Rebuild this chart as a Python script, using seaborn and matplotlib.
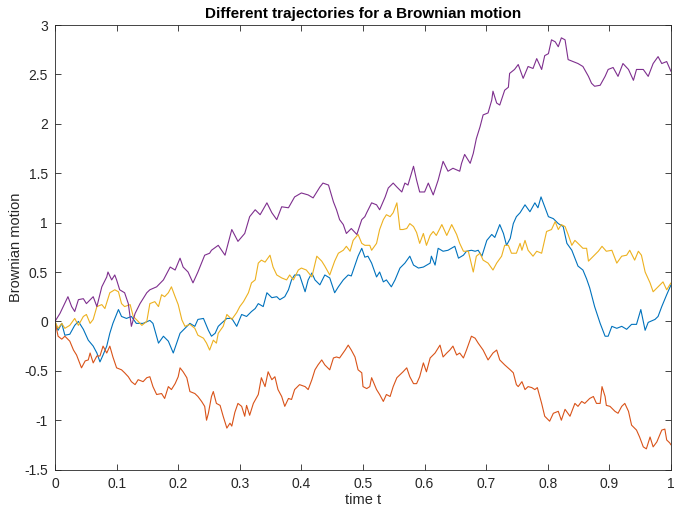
import numpy as np
import pandas as pd
import matplotlib
matplotlib.use("Agg")
import matplotlib.pyplot as plt
import seaborn as sns

# ---- data ----
t_blue = [0, .005, .011, .016, .024, .032, .038, .046, .054, .062, .068, .073, .078, .084, .089, .094, .103, .108, .116, .124,
          .132, .143, .154, .159, .168, .176, .184, .192, .197, .203, .211, .219, .227, .232, .241, .249, .254, .260, .265, .270,
          .279, .287, .295, .303, .311, .319, .325, .330, .338, .344, .352, .360, .365, .373, .379, .384, .389, .397, .406, .411,
          .417, .422, .430, .438, .446, .454, .460, .468, .476, .481, .487, .492, .498, .503, .508, .514, .522, .527, .533, .538,
          .546, .552, .560, .568, .576, .582, .590, .598, .609, .611, .617, .622, .630, .638, .649, .655, .663, .668, .676, .682,
          .687, .693, .701, .709, .714, .722, .728, .733, .739, .744, .749, .755, .763, .771, .779, .784, .789, .795, .801, .809,
          .817, .825, .831, .839, .844, .849, .857, .863, .868, .876, .885, .893, .898, .904, .912, .920, .928, .936, .944, .951,
          .958, .963, .974, .979, .985, .993, 1.0]
v_blue = [0, -0.09, -0.02, -0.14, -0.13, -0.04, 0.0, -0.08, -0.19, -0.25, -0.32, -0.41, -0.34, -0.25, -0.12, -0.02, 0.12, 0.05, 0.03, 0.05,
          -0.02, -0.02, 0.01, -0.02, -0.22, -0.15, -0.20, -0.32, -0.23, -0.12, -0.07, -0.02, -0.05, 0.02, 0.03, -0.09, -0.15, -0.12, -0.05, -0.02,
          0.03, 0.03, -0.05, 0.07, 0.05, 0.10, 0.13, 0.18, 0.15, 0.29, 0.24, 0.25, 0.22, 0.25, 0.32, 0.42, 0.47, 0.47, 0.30, 0.42,
          0.49, 0.42, 0.37, 0.47, 0.44, 0.29, 0.35, 0.42, 0.47, 0.46, 0.57, 0.66, 0.74, 0.65, 0.66, 0.59, 0.45, 0.50, 0.40, 0.42,
          0.35, 0.42, 0.54, 0.59, 0.66, 0.57, 0.54, 0.55, 0.59, 0.66, 0.57, 0.74, 0.71, 0.72, 0.76, 0.64, 0.67, 0.71, 0.72, 0.71,
          0.72, 0.66, 0.82, 0.88, 0.85, 0.98, 0.89, 0.77, 0.84, 0.99, 1.06, 1.10, 1.18, 1.11, 1.20, 1.15, 1.26, 1.16, 1.06, 1.04,
          0.99, 0.96, 0.79, 0.72, 0.64, 0.56, 0.52, 0.43, 0.34, 0.15, -0.02, -0.15, -0.15, -0.05, -0.07, -0.05, -0.08, -0.03, -0.03, 0.12,
          -0.09, -0.01, 0.02, 0.05, 0.15, 0.27, 0.37]

t_red = [0, .005, .011, .016, .024, .030, .035, .040, .043, .049, .054, .057, .062, .068, .073, .078, .084, .089, .094, .100,
         .108, .113, .119, .124, .130, .135, .143, .149, .154, .159, .165, .173, .178, .184, .189, .195, .200, .203, .208, .214,
         .219, .227, .232, .238, .243, .246, .249, .254, .257, .262, .268, .273, .279, .284, .287, .292, .297, .303, .308, .311,
         .316, .322, .330, .335, .341, .346, .352, .357, .362, .368, .373, .379, .384, .389, .397, .406, .411, .417, .422, .427,
         .433, .438, .446, .452, .457, .462, .471, .476, .481, .487, .492, .498, .500, .506, .511, .514, .522, .527, .533, .538,
         .544, .549, .555, .560, .565, .571, .576, .582, .587, .592, .598, .603, .609, .617, .625, .630, .636, .641, .646, .652,
         .657, .663, .668, .676, .682, .687, .695, .703, .711, .717, .722, .730, .739, .744, .749, .752, .758, .763, .768, .774,
         .779, .783, .790, .795, .803, .809, .817, .822, .828, .836, .844, .849, .855, .860, .868, .874, .879, .885, .888, .893,
         .895, .901, .909, .914, .920, .925, .931, .936, .944, .949, .955, .960, .966, .971, .977, .985, .990, .993, .998, 1.0]
v_red = [0, -0.15, -0.18, -0.15, -0.20, -0.29, -0.34, -0.42, -0.47, -0.40, -0.39, -0.32, -0.42, -0.35, -0.35, -0.25, -0.32, -0.25, -0.36, -0.47,
         -0.49, -0.52, -0.56, -0.61, -0.64, -0.59, -0.61, -0.57, -0.56, -0.66, -0.74, -0.73, -0.78, -0.66, -0.69, -0.63, -0.56, -0.47, -0.51, -0.57,
         -0.71, -0.73, -0.76, -0.81, -0.86, -1.00, -0.93, -0.76, -0.71, -0.83, -0.85, -0.96, -1.08, -1.03, -1.06, -0.92, -0.83, -0.86, -0.96, -0.85,
         -0.95, -0.83, -0.74, -0.57, -0.66, -0.51, -0.59, -0.56, -0.69, -0.76, -0.86, -0.78, -0.79, -0.69, -0.64, -0.66, -0.69, -0.59, -0.49, -0.44,
         -0.39, -0.44, -0.49, -0.37, -0.36, -0.37, -0.29, -0.24, -0.29, -0.36, -0.49, -0.52, -0.66, -0.68, -0.66, -0.57, -0.69, -0.74, -0.81, -0.74,
         -0.76, -0.66, -0.57, -0.54, -0.51, -0.47, -0.56, -0.63, -0.63, -0.56, -0.42, -0.51, -0.37, -0.32, -0.24, -0.36, -0.32, -0.29, -0.25, -0.34,
         -0.32, -0.37, -0.29, -0.15, -0.17, -0.22, -0.29, -0.39, -0.32, -0.29, -0.39, -0.44, -0.49, -0.52, -0.64, -0.66, -0.61, -0.69, -0.66, -0.67,
         -0.69, -0.67, -0.83, -0.96, -1.01, -0.93, -0.91, -1.00, -0.89, -0.96, -0.83, -0.86, -0.81, -0.83, -0.78, -0.76, -0.83, -0.83, -0.66, -0.76,
         -0.85, -0.86, -0.91, -0.93, -0.86, -0.83, -0.91, -1.05, -1.10, -1.17, -1.27, -1.29, -1.17, -1.27, -1.22, -1.10, -1.09, -1.20, -1.23, -1.25]

t_yellow = [0, .005, .011, .016, .024, .032, .038, .046, .051, .057, .062, .068, .076, .081, .089, .097, .103, .108, .113, .122,
            .127, .135, .141, .149, .154, .162, .168, .173, .178, .184, .189, .195, .200, .206, .211, .219, .227, .232, .241, .246,
            .251, .257, .262, .265, .273, .279, .287, .295, .300, .306, .314, .319, .325, .330, .335, .341, .349, .354, .360, .368,
            .376, .381, .387, .395, .400, .408, .417, .425, .433, .438, .446, .454, .460, .468, .473, .479, .484, .492, .498, .503,
            .511, .514, .522, .527, .533, .538, .544, .549, .555, .560, .565, .571, .576, .582, .587, .592, .598, .603, .609, .614,
            .619, .628, .636, .644, .652, .657, .663, .671, .679, .684, .690, .695, .703, .711, .717, .725, .730, .736, .741, .749,
            .755, .758, .763, .768, .776, .782, .790, .798, .806, .812, .817, .822, .828, .833, .839, .844, .849, .857, .863, .866,
            .874, .882, .888, .895, .904, .912, .920, .928, .933, .941, .947, .952, .958, .966, .971, .979, .987, .993, 1.0]
v_yellow = [0, -0.07, -0.02, -0.07, -0.04, 0.03, -0.04, 0.05, 0.07, -0.02, 0.02, 0.15, 0.17, 0.13, 0.29, 0.32, 0.30, 0.18, 0.15, 0.17,
            0.05, 0.0, -0.04, 0.0, 0.18, 0.20, 0.15, 0.27, 0.25, 0.29, 0.35, 0.25, 0.17, 0.015, -0.05, -0.03, -0.07, -0.14, -0.17, -0.22,
            -0.29, -0.19, -0.22, -0.12, -0.05, 0.07, 0.02, 0.09, 0.15, 0.20, 0.29, 0.39, 0.42, 0.59, 0.62, 0.60, 0.67, 0.55, 0.47, 0.44,
            0.42, 0.47, 0.42, 0.52, 0.54, 0.52, 0.45, 0.66, 0.61, 0.56, 0.47, 0.61, 0.69, 0.72, 0.76, 0.71, 0.82, 0.88, 0.79, 0.77,
            0.77, 0.72, 0.79, 0.93, 1.03, 1.08, 1.06, 1.10, 1.20, 0.93, 0.93, 0.94, 0.99, 0.96, 0.90, 0.79, 0.89, 0.77, 0.87, 0.91,
            0.87, 0.98, 0.87, 0.98, 0.88, 0.79, 0.71, 0.71, 0.50, 0.66, 0.69, 0.62, 0.59, 0.52, 0.59, 0.66, 0.77, 0.77, 0.69, 0.69,
            0.79, 0.72, 0.82, 0.72, 0.66, 0.71, 0.69, 0.91, 0.93, 1.01, 0.93, 0.98, 0.96, 0.88, 0.77, 0.82, 0.79, 0.74, 0.74, 0.61,
            0.66, 0.71, 0.76, 0.71, 0.72, 0.59, 0.66, 0.67, 0.72, 0.62, 0.71, 0.67, 0.50, 0.39, 0.30, 0.35, 0.40, 0.32, 0.39]

t_purple = [0, .008, .021, .027, .032, .038, .046, .051, .062, .068, .076, .084, .086, .092, .097, .100, .105, .113, .119, .124,
            .130, .138, .149, .154, .165, .176, .187, .195, .203, .208, .216, .224, .232, .243, .251, .254, .265, .276, .287, .297,
            .308, .316, .325, .333, .344, .352, .360, .368, .379, .389, .400, .411, .419, .430, .435, .444, .452, .457, .462, .468,
            .473, .481, .490, .498, .503, .506, .514, .522, .527, .536, .541, .549, .555, .563, .568, .573, .582, .587, .592, .600,
            .606, .614, .622, .630, .638, .646, .657, .660, .665, .674, .679, .684, .690, .695, .703, .709, .711, .717, .722, .730,
            .736, .738, .746, .752, .760, .768, .776, .782, .790, .795, .801, .806, .812, .817, .822, .828, .833, .841, .849, .857,
            .866, .871, .876, .885, .893, .898, .906, .914, .922, .931, .939, .944, .955, .963, .971, .979, .985, .993, 1.0]
v_purple = [0, 0.08, 0.25, 0.15, 0.10, 0.22, 0.23, 0.18, 0.25, 0.15, 0.35, 0.45, 0.50, 0.42, 0.47, 0.42, 0.32, 0.29, 0.18, -0.05,
            0.08, 0.18, 0.29, 0.32, 0.35, 0.42, 0.55, 0.52, 0.64, 0.55, 0.50, 0.39, 0.50, 0.67, 0.69, 0.72, 0.77, 0.67, 0.93, 0.81,
            0.89, 1.06, 1.13, 1.08, 1.20, 1.10, 1.03, 1.16, 1.15, 1.26, 1.30, 1.28, 1.25, 1.36, 1.40, 1.38, 1.21, 1.13, 1.03, 0.98,
            0.89, 0.94, 0.88, 1.03, 1.06, 1.10, 1.20, 1.18, 1.13, 1.26, 1.35, 1.40, 1.36, 1.31, 1.40, 1.38, 1.57, 1.43, 1.31, 1.31,
            1.40, 1.28, 1.43, 1.62, 1.52, 1.55, 1.52, 1.60, 1.69, 1.60, 1.70, 1.85, 1.97, 2.09, 2.11, 2.24, 2.33, 2.21, 2.19, 2.34,
            2.37, 2.51, 2.55, 2.60, 2.46, 2.58, 2.56, 2.66, 2.55, 2.69, 2.71, 2.85, 2.83, 2.78, 2.87, 2.85, 2.65, 2.63, 2.61, 2.58,
            2.48, 2.41, 2.38, 2.39, 2.48, 2.55, 2.57, 2.48, 2.61, 2.55, 2.44, 2.55, 2.55, 2.48, 2.61, 2.68, 2.61, 2.63, 2.53]

x_ticks = [0, 0.1, 0.2, 0.3, 0.4, 0.5, 0.6, 0.7, 0.8, 0.9, 1]
x_ticklabels = ["0", "0.1", "0.2", "0.3", "0.4", "0.5", "0.6", "0.7", "0.8", "0.9", "1"]
y_ticks = [-1.5, -1, -0.5, 0, 0.5, 1, 1.5, 2, 2.5, 3]
y_ticklabels = ["-1.5", "-1", "-0.5", "0", "0.5", "1", "1.5", "2", "2.5", "3"]

series = [("blue", t_blue, v_blue, "#0072BD"),
          ("red", t_red, v_red, "#D95319"),
          ("yellow", t_yellow, v_yellow, "#EDB120"),
          ("purple", t_purple, v_purple, "#7E2F8E")]

sns.set_theme(style="white")
plt.rcParams['font.family'] = ['Liberation Sans', 'DejaVu Sans']

fig = plt.figure(figsize=(6.76, 5.09), dpi=100)
ax = fig.add_axes([55 / 676, 1 - 469.6 / 509, 616 / 676, (469.6 - 25) / 509])

for name, t, v, col in series:
    df = pd.DataFrame({"t": t, "v": v})
    sns.lineplot(data=df, x="t", y="v", ax=ax, color=col, lw=0.8, estimator=None, sort=False)

ax.set_xlim(0, 1)
ax.set_ylim(-1.5, 3)
ax.set_xticks(x_ticks)
ax.set_xticklabels(x_ticklabels)
ax.set_yticks(y_ticks)
ax.set_yticklabels(y_ticklabels)
ax.tick_params(direction="in", length=4, width=0.6, colors="#262626", labelsize=10,
               top=True, right=True, bottom=True, left=True, pad=5)
for s in ax.spines.values():
    s.set_visible(True)
    s.set_color("#262626")
    s.set_linewidth(0.6)
ax.set_xlabel("time t", fontsize=10.5, color="#262626", labelpad=2)
ax.set_ylabel("Brownian motion", fontsize=10.5, color="#262626", labelpad=1)
ax.set_title("Different trajectories for a Brownian motion", fontsize=11, fontweight="bold", color="black", pad=5)
ax.grid(False)

fig.savefig("out.png", dpi=100)
